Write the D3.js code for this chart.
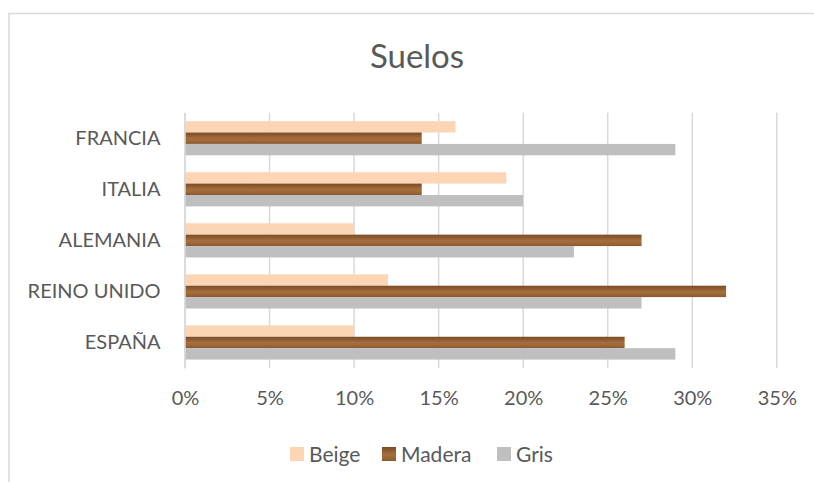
<!DOCTYPE html>
<html>
<head>
<meta charset="utf-8">
<script src="https://cdn.jsdelivr.net/npm/d3@7"></script>
<style>
  body { margin: 0; background: #fff; }
  text { font-family: Lato, "Open Sans", sans-serif; fill: #595959; }
</style>
</head>
<body>
<div class="container"></div>
<script>
// data
var categories = ["FRANCIA", "ITALIA", "ALEMANIA", "REINO UNIDO", "ESPAÑA"];
var seriesNames = ["Beige", "Madera", "Gris"];
var beige  = [0.16, 0.19, 0.10, 0.12, 0.10];
var madera = [0.14, 0.14, 0.27, 0.32, 0.26];
var gris   = [0.29, 0.20, 0.23, 0.27, 0.29];
var xTicks = [0, 0.05, 0.10, 0.15, 0.20, 0.25, 0.30, 0.35];

var values = { Beige: beige, Madera: madera, Gris: gris };
var width = 814, height = 482;
var margin = { top: 112.7, right: 38, bottom: 114, left: 185 };

var svg = d3.select(".container").append("svg")
  .attr("width", width)
  .attr("height", height);

// wood look for the Madera bars
var defs = svg.append("defs");
var wood = defs.append("linearGradient")
  .attr("id", "wood")
  .attr("x1", 0).attr("y1", 0).attr("x2", 0).attr("y2", 1);
[[0, "#7a4c27"], [0.25, "#8f5c31"], [0.5, "#a36d3d"], [0.7, "#a06a3a"], [1, "#8a5830"]]
  .forEach(function(s) {
    wood.append("stop").attr("offset", s[0]).attr("stop-color", s[1]);
  });

var color = { Beige: "#fcd5b5", Madera: "url(#wood)", Gris: "#bfbfbf" };

// chart frame
svg.append("rect")
  .attr("x", 9).attr("y", 13.5)
  .attr("width", width + 20).attr("height", height + 20)
  .attr("fill", "none")
  .attr("stroke", "#d9d9d9")
  .attr("stroke-width", 1.5);

svg.append("text")
  .attr("x", 417).attr("y", 68)
  .attr("text-anchor", "middle")
  .style("font-size", "33px")
  .text("Suelos");

var x = d3.scaleLinear()
  .domain([0, 0.35])
  .range([margin.left, width - margin.right + 0.8]);

var y = d3.scaleBand()
  .domain(categories)
  .range([margin.top, height - margin.bottom])
  .paddingInner(0.33)
  .paddingOuter(0.165);

var ySeries = d3.scaleBand()
  .domain(seriesNames)
  .range([0, y.bandwidth()]);

// gridlines
svg.append("g")
  .selectAll("line")
  .data(xTicks)
  .join("line")
  .attr("x1", function(d) { return x(d); })
  .attr("x2", function(d) { return x(d); })
  .attr("y1", margin.top)
  .attr("y2", height - margin.bottom)
  .attr("stroke", "#d9d9d9")
  .attr("stroke-width", 1.5);

// bars
var groups = svg.append("g")
  .selectAll("g")
  .data(categories)
  .join("g")
  .attr("transform", function(d) { return "translate(0," + y(d) + ")"; });

groups.selectAll("rect")
  .data(function(c, i) {
    return seriesNames.map(function(s) { return { key: s, value: values[s][i] }; });
  })
  .join("rect")
  .attr("x", x(0))
  .attr("y", function(d) { return ySeries(d.key); })
  .attr("width", function(d) { return x(d.value) - x(0); })
  .attr("height", ySeries.bandwidth())
  .attr("fill", function(d) { return color[d.key]; });

// category axis
var yAxis = svg.append("g")
  .attr("transform", "translate(" + (margin.left - 0.5) + ",0)")
  .call(d3.axisLeft(y).tickSize(0).tickPadding(24));
yAxis.select(".domain").attr("stroke", "#d9d9d9").attr("stroke-width", 1.5);
yAxis.selectAll("text").style("font-size", "20px").attr("fill", "#595959");

// value axis
var xAxis = svg.append("g")
  .attr("transform", "translate(0," + (height - margin.bottom) + ")")
  .call(d3.axisBottom(x).tickValues(xTicks).tickFormat(d3.format(".0%")).tickSize(0).tickPadding(23));
xAxis.select(".domain").remove();
xAxis.selectAll("text").style("font-size", "20px").attr("fill", "#595959");

// legend
var legendX = [290, 382, 497];
var legend = svg.append("g")
  .selectAll("g")
  .data(seriesNames)
  .join("g")
  .attr("transform", function(d, i) { return "translate(" + legendX[i] + ",447)"; });

legend.append("rect")
  .attr("width", 14).attr("height", 14)
  .attr("fill", function(d) { return color[d]; });

legend.append("text")
  .attr("x", 19).attr("y", 14.5)
  .style("font-size", "21px")
  .text(function(d) { return d; });
</script>
</body>
</html>
